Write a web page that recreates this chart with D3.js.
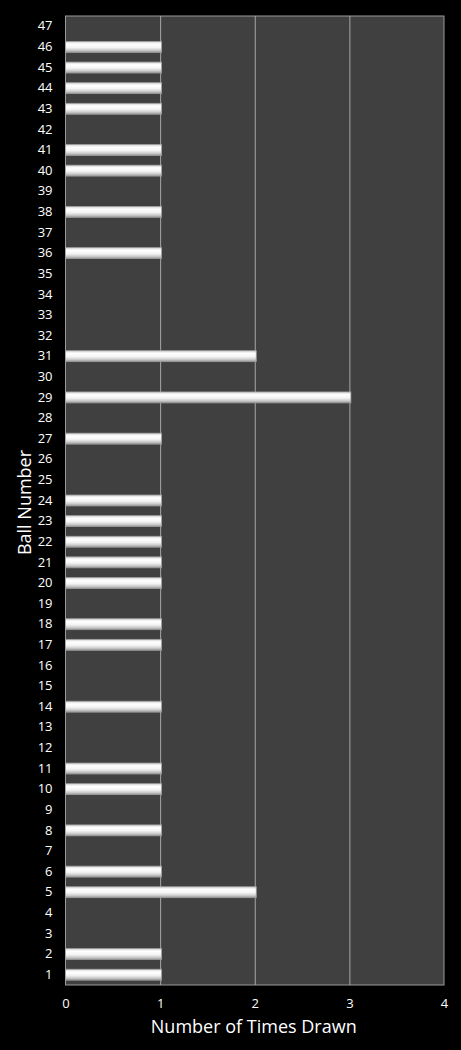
<!DOCTYPE html>
<html>
<head>
<meta charset="utf-8">
<script src="https://cdn.jsdelivr.net/npm/d3@7"></script>
<style>
  body { margin: 0; background: #000; }
  svg { display: block; }
  text { font-family: "Open Sans", "Noto Sans", sans-serif; fill: #fff; }
</style>
</head>
<body>
<script>
// data
var balls = d3.range(1, 48);
var timesDrawn = [1, 1, 0, 0, 2, 1, 0, 1, 0, 1,
                  1, 0, 0, 1, 0, 0, 1, 1, 0, 1,
                  1, 1, 1, 1, 0, 0, 1, 0, 3, 0,
                  2, 0, 0, 0, 0, 1, 0, 1, 0, 1,
                  1, 0, 1, 1, 1, 1, 0];
var xTicks = [0, 1, 2, 3, 4];

var width = 461, height = 1050;
var margin = { top: 16, right: 17, bottom: 65, left: 65.5 };

var svg = d3.select('body').append('svg')
  .attr('width', width)
  .attr('height', height);

svg.append('rect')
  .attr('width', width)
  .attr('height', height)
  .attr('fill', '#000');

// bar gradient (cylinder look)
var grad = svg.append('defs').append('linearGradient')
  .attr('id', 'barGrad')
  .attr('x1', 0).attr('y1', 0).attr('x2', 0).attr('y2', 1);
grad.append('stop').attr('offset', '0%').attr('stop-color', '#d4d4d4');
grad.append('stop').attr('offset', '25%').attr('stop-color', '#ffffff');
grad.append('stop').attr('offset', '55%').attr('stop-color', '#f4f4f4');
grad.append('stop').attr('offset', '80%').attr('stop-color', '#cccccc');
grad.append('stop').attr('offset', '100%').attr('stop-color', '#959595');

var x = d3.scaleLinear()
  .domain([0, 4])
  .range([margin.left, width - margin.right]);

var y = d3.scaleBand()
  .domain(balls)
  .range([height - margin.bottom, margin.top])
  .paddingInner(0.47)
  .paddingOuter(0.235);

// plot area
svg.append('rect')
  .attr('x', x(0))
  .attr('y', margin.top)
  .attr('width', x(4) - x(0))
  .attr('height', height - margin.bottom - margin.top)
  .attr('fill', '#404040')
  .attr('stroke', '#9a9a9a')
  .attr('stroke-width', 1);

// gridlines
svg.append('g')
  .selectAll('line')
  .data(xTicks.slice(1, -1))
  .enter()
  .append('line')
  .attr('x1', function (d) { return x(d) + 0.5; })
  .attr('x2', function (d) { return x(d) + 0.5; })
  .attr('y1', margin.top)
  .attr('y2', height - margin.bottom)
  .attr('stroke', '#a6a6a6')
  .attr('stroke-width', 1);

// bars
svg.append('g')
  .selectAll('rect')
  .data(balls.filter(function (b, i) { return timesDrawn[i] > 0; }))
  .enter()
  .append('rect')
  .attr('x', x(0))
  .attr('y', function (b) { return y(b); })
  .attr('width', function (b) { return x(timesDrawn[b - 1]) - x(0) + 1.5; })
  .attr('height', y.bandwidth())
  .attr('fill', 'url(#barGrad)')
  .attr('stroke', '#a0a0a0')
  .attr('stroke-width', 0.8);

// y axis labels
var yAxis = d3.axisLeft(y).tickSize(0).tickPadding(13);
var yG = svg.append('g')
  .attr('transform', 'translate(' + x(0) + ',0)')
  .call(yAxis);
yG.select('.domain').remove();
yG.selectAll('text')
  .style('font-size', '13px')
  .style('fill', '#fff');

// x axis labels
var xAxis = d3.axisBottom(x).tickValues(xTicks).tickFormat(d3.format('d'))
  .tickSize(0).tickPadding(14);
var xG = svg.append('g')
  .attr('transform', 'translate(0,' + (height - margin.bottom) + ')')
  .call(xAxis);
xG.select('.domain').remove();
xG.selectAll('text')
  .style('font-size', '13px')
  .style('fill', '#fff');

// axis titles
svg.append('text')
  .attr('x', (x(0) + x(4)) / 2 - 1)
  .attr('y', 1033)
  .attr('text-anchor', 'middle')
  .style('font-size', '18px')
  .text('Number of Times Drawn');

svg.append('text')
  .attr('transform', 'translate(31,' + ((margin.top + height - margin.bottom) / 2 + 2) + ') rotate(-90)')
  .attr('text-anchor', 'middle')
  .style('font-size', '18px')
  .text('Ball Number');
</script>
</body>
</html>
